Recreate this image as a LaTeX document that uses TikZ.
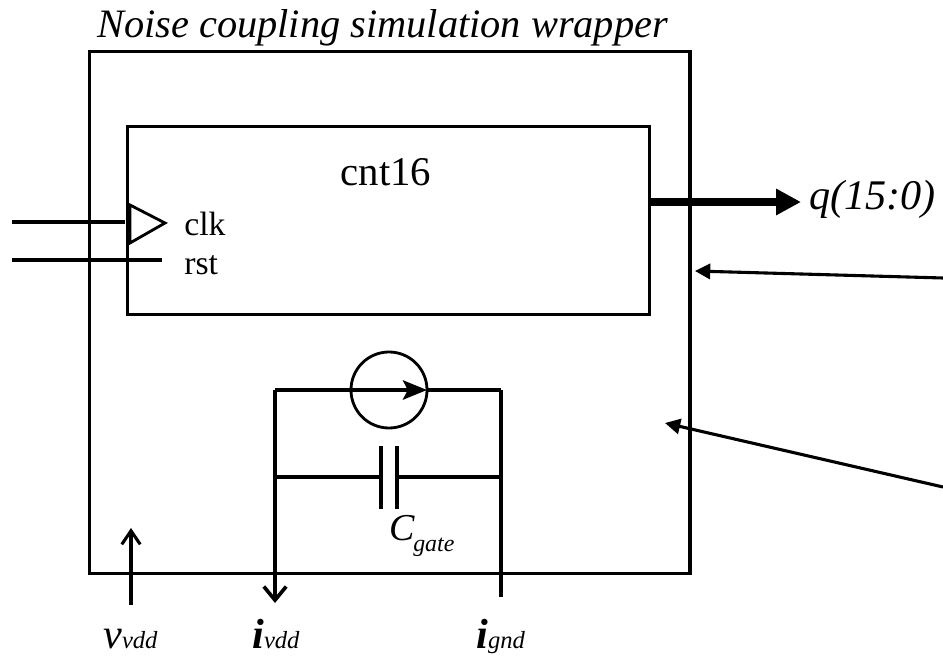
\documentclass[tikz,border=0pt]{standalone}
\usepackage{fontspec}
\setmainfont{Liberation Serif}
\usetikzlibrary{arrows.meta}
\tikzset{
  box/.style={draw,line width=2.2pt,inner sep=0pt},
  wire/.style={line width=2.4pt},
  pointer/.style={line width=2.2pt,-{Triangle[length=3.8mm,width=3.8mm]}},
  probe/.style={line width=2.8pt,-{Straight Barb[length=3.4mm,width=5.6mm,line width=2.6pt]}},
  port/.style={inner sep=0pt,font=\fontsize{24}{26}\selectfont},
  lbl/.style={inner sep=0pt,font=\fontsize{28.7}{32}\selectfont\itshape},
  biglbl/.style={inner sep=0pt,font=\fontsize{30}{32}\selectfont\itshape},
}
\newcommand{\subsize}{\fontsize{17.5}{20}\selectfont}

\begin{document}
\begin{tikzpicture}[x=0.025cm,y=-0.025cm]
\useasboundingbox (0,0) rectangle (943,656);
% boxes
\node[box,minimum width=15.01cm,minimum height=13.03cm] (wrapper) at (389.75,312.5) {};
\node[box,minimum width=13.03cm,minimum height=4.68cm] (cnt) at (388.5,220.5) {};
\node[lbl,anchor=base west] (title) at (97,38) {Noise coupling simulation wrapper};
\node[inner sep=0pt,font=\fontsize{29}{32}\selectfont,anchor=base] (cntlbl) at (386,186) {cnt16};
% clock and reset
\coordinate (clkin) at (12,222);
\coordinate (clkend) at (125,222);
\coordinate (rstin) at (12,260);
\coordinate (rstend) at (162,260);
\coordinate (tria) at (130,205);
\coordinate (trib) at (165,223);
\coordinate (tric) at (130,243);
\draw[wire] (clkin) -- (clkend);
\draw[wire] (rstin) -- (rstend);
\draw[line width=2pt,line join=miter] (tria) -- (trib) -- (tric) -- cycle;
\node[port,anchor=base west] (clk) at (184,236) {clk};
\node[port,anchor=base west] (rst) at (184,275) {rst};
% output bus
\coordinate (busin) at (649,202);
\coordinate (busend) at (801,202);
\draw[line width=5.8pt,-{Triangle[length=6.2mm,width=6.2mm,inset=0pt]}] (busin) -- (busend);
\node[biglbl,anchor=base west] (q) at (809,210) {q(15:0)};
% pointers from the right edge
\coordinate (ptra) at (943,278);
\coordinate (ptraend) at (695,271);
\coordinate (ptrb) at (943,487);
\coordinate (ptrbend) at (665,423);
\draw[pointer] (ptra) -- (ptraend);
\draw[pointer] (ptrb) -- (ptrbend);
% current source and capacitor
\coordinate (lefttop) at (275,390);
\coordinate (righttop) at (501,390);
\coordinate (leftcap) at (275,477);
\coordinate (rightcap) at (501,477);
\coordinate (leftend) at (275,603);
\coordinate (rightend) at (501,597);
\node[draw,circle,line width=2pt,minimum size=1.9cm,inner sep=0pt] (src) at (389,390) {};
\coordinate (srcin) at (350,390);
\coordinate (srcout) at (427,390);
\draw[wire] (lefttop) -- (srcin);
\draw[wire] (srcout) -- (righttop);
\draw[line width=2.8pt,-{Stealth[length=6mm,width=4.8mm,inset=1.2mm]}] (srcin) -- (srcout);
\coordinate (plateat) at (381,446);
\coordinate (platead) at (381,509);
\coordinate (platebt) at (397,446);
\coordinate (platebd) at (397,509);
\coordinate (platea) at (381,477);
\coordinate (plateb) at (397,477);
\draw[line width=2.8pt] (plateat) -- (platead);
\draw[line width=2.8pt] (platebt) -- (platebd);
\draw[line width=2.6pt] (leftcap) -- (platea);
\draw[line width=2.6pt] (plateb) -- (rightcap);
\draw[line width=2.6pt] (righttop) -- (rightend);
\draw[probe] (lefttop) -- (leftend);
\node[inner sep=0pt,font=\fontsize{27}{30}\selectfont\itshape,anchor=base west] (cgate) at (389,540) {C};
\node[inner sep=0pt,font=\fontsize{17}{20}\selectfont\itshape,anchor=base west] (gate) at (413,551) {gate};
% supply probes
\coordinate (vin) at (131,605);
\coordinate (vend) at (131,528);
\draw[line width=2.4pt,-{Straight Barb[length=3.4mm,width=4.6mm,line width=2.2pt]}] (vin) -- (vend);
\node[biglbl,anchor=base west] (vvdd) at (103,648) {v{\subsize vdd}};
\node[biglbl,anchor=base west] (ivdd) at (252,648) {\bfseries i{\mdseries\subsize vdd}};
\node[biglbl,anchor=base west] (ignd) at (476,648) {\bfseries i{\mdseries\subsize gnd}};
\end{tikzpicture}
\end{document}
